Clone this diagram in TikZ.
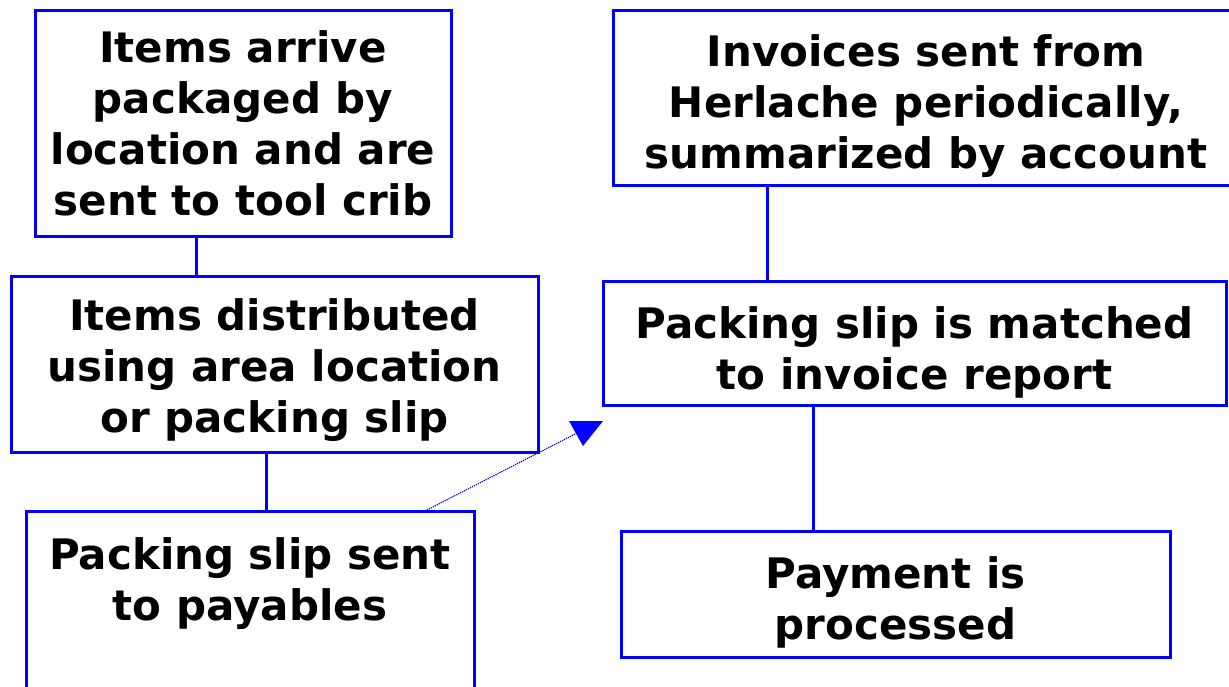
\documentclass[tikz,border=0pt]{standalone}
\usepackage{fontspec}
\setmainfont{DejaVu Sans}
\usepackage{tikz}
\usetikzlibrary{arrows.meta,positioning,calc}
\tikzstyle{line} = [draw=blue, line width=3pt]
\tikzstyle{stepbox} = [draw=blue, line width=3pt, inner sep=0pt, outer sep=0pt, align=center, font=\bfseries\fontsize{42}{51}\selectfont]
\tikzset{>=latex}
\newcommand{\topgap}[1]{\rule{0pt}{#1}}

\begin{document}
\begin{tikzpicture}[x=1pt,y=-1pt]
      \useasboundingbox (0,0) rectangle (1229,686);
      \clip (0,0) rectangle (1229,686);
      \node [stepbox, minimum width=416pt, minimum height=226pt] (arrive) at (243,123) {Items arrive\\packaged by\\location and are\\sent to tool crib};
      \node [stepbox, minimum width=527pt, minimum height=176pt] (distrib) at (274.5,364) {\topgap{44pt}Items distributed\\using area location\\or packing slip};
      \node [stepbox, minimum width=448pt, minimum height=238pt] (slip) at (250,630) {Packing slip sent\\to payables\\~\\~};
      \node [stepbox, minimum width=626pt, minimum height=175pt] (invoice) at (926,97.5) {\topgap{50pt}Invoices sent from\\Herlache periodically,\\summarized by account};
      \node [stepbox, minimum width=623pt, minimum height=124pt] (match) at (914.5,343) {\topgap{50pt}Packing slip is matched\\to invoice report};
      \node [stepbox, minimum width=549pt, minimum height=126pt] (pay) at (895.5,594) {\topgap{48pt}Payment is\\processed};
      \path [line] ([xshift=161pt]arrive.south west) -- ([xshift=185pt]distrib.north west);
      \path [line] ([xshift=255pt]distrib.south west) -- ([xshift=240pt]slip.north west);
      \path [line] ([xshift=154pt]invoice.south west) -- ([xshift=164pt]match.north west);
      \path [line] ([xshift=210pt]match.south west) -- ([xshift=192pt]pay.north west);
      % dotted link to the matching step
      \coordinate (tip) at (577,433);
      \path [draw=blue, densely dotted, line width=1.2pt] ([xshift=399pt]slip.north west) -- (tip);
      \fill [blue] (569,421) -- (603,421) -- (583,446) -- cycle;
    \end{tikzpicture}
\end{document}
